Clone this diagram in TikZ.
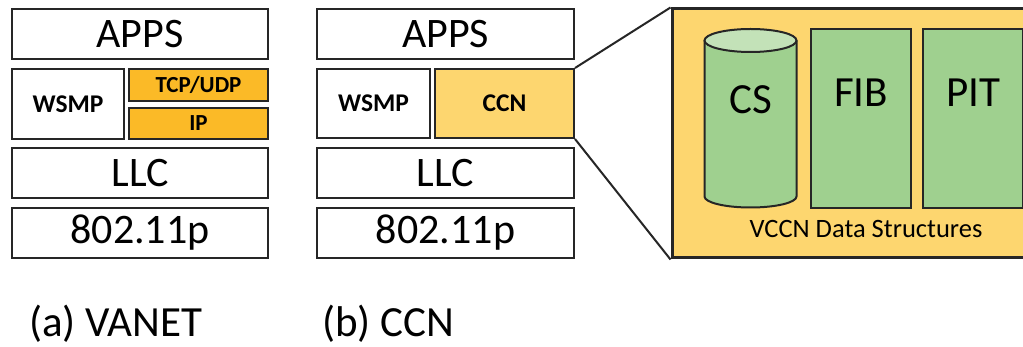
\documentclass[tikz,border=0pt]{standalone}
\usepackage{fontspec}
\setmainfont{Carlito}

\definecolor{ipgold}{HTML}{FBBA27}
\definecolor{ccnyellow}{HTML}{FDD66F}
\definecolor{dsgreen}{HTML}{9FD08F}
\definecolor{dslight}{HTML}{C3E2B8}
\definecolor{edge}{HTML}{262626}

\begin{document}
\begin{tikzpicture}[
  x=1pt,
  y=-1pt,
  layer/.style={draw=edge, line width=2pt, fill=white, inner sep=0pt,
    font=\fontsize{42}{44}\selectfont},
  proto/.style={layer, font=\bfseries\fontsize{25.5}{27}\selectfont},
  netbox/.style={layer, fill=ipgold, font=\bfseries\fontsize{23}{25}\selectfont},
  table/.style={draw=edge, line width=2pt, fill=dsgreen, inner sep=0pt,
    minimum width=100, minimum height=179},
  bigtxt/.style={font=\fontsize{43}{45}\selectfont, inner sep=0pt}
]

% White background and page size
\useasboundingbox (0,0) rectangle (1023,347);
\fill[white] (0,0) rectangle (1023,347);
\clip (0,0) rectangle (1023,347);

% (a) VANET stack
\node[layer, minimum width=256, minimum height=50] (appsA) at (140,34) {APPS};
\node[proto, minimum width=112, minimum height=70] (wsmpA) at (68,104) {WSMP};
\node[netbox, minimum width=139, minimum height=32] (tcpA) at (198.5,85) {TCP/UDP};
\node[netbox, minimum width=139, minimum height=31] (ipA) at (198.5,123.5) {IP};
\node[layer, minimum width=256, minimum height=50] (llcA) at (140,173) {LLC};
\node[layer, minimum width=256, minimum height=50] (phyA) at (140,233) {802.11p};

% (b) CCN stack
\node[layer, minimum width=257, minimum height=50] (appsB) at (445.5,34) {APPS};
\node[proto, minimum width=113, minimum height=69] (wsmpB) at (373.5,103.5) {WSMP};
\node[proto, fill=ccnyellow, minimum width=139, minimum height=69] (ccnB) at (504.5,103.5) {CCN};
\node[layer, minimum width=257, minimum height=50] (llcB) at (445.5,173) {LLC};
\node[layer, minimum width=257, minimum height=50] (phyB) at (445.5,233) {802.11p};

% Zoomed CCN block
\node[draw=edge, line width=3pt, fill=ccnyellow, inner sep=0pt,
  minimum width=380, minimum height=249] (vccn) at (862,133.5) {};
\draw[edge, line width=2pt] (ccnB.north east) -- (vccn.north west);
\draw[edge, line width=2pt] (ccnB.south east) -- (vccn.south west);

% Content store cylinder
\filldraw[draw=edge, fill=dsgreen, line width=2pt]
  (704.5,40.5) -- (704.5,196.5)
  arc[start angle=180, end angle=360, x radius=46pt, y radius=11pt]
  -- (796.5,40.5);
\filldraw[draw=edge, fill=dslight, line width=2pt]
  (750.5,40.5) ellipse [x radius=46pt, y radius=11.5pt];
\node[bigtxt] (cs) at (751,99.5) {CS};

% FIB and PIT tables
\node[table] (fib) at (861,118.5) {};
\node[table] (pit) at (973,118.5) {};
\node[bigtxt] (fibtxt) at (861,93) {FIB};
\node[bigtxt] (pittxt) at (973,93) {PIT};

\node[font=\fontsize{26.5}{28}\selectfont, inner sep=0pt] (dslabel) at (866,229) {VCCN Data Structures};

% Captions
\node[font=\fontsize{43}{45}\selectfont, anchor=west, inner sep=0pt] (capA) at (29,323.5) {(a) VANET};
\node[font=\fontsize{43}{45}\selectfont, anchor=west, inner sep=0pt] (capB) at (322,323.5) {(b) CCN};

\end{tikzpicture}
\end{document}
